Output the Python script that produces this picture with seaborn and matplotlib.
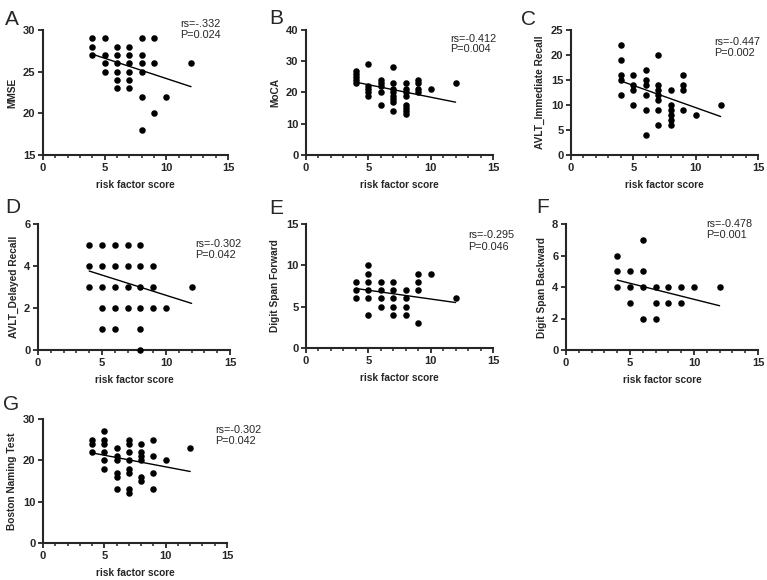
import matplotlib
matplotlib.use("Agg")
import matplotlib.pyplot as plt
from matplotlib.ticker import MultipleLocator
import seaborn as sns
import pandas as pd

# ---------------- data ----------------
x_label = "risk factor score"

mmse_x = [4, 4, 4, 5, 5, 5, 5, 6, 6, 6, 6, 6, 6, 7, 7, 7, 7, 7, 7, 8, 8, 8, 8, 8, 8, 9, 9, 9, 10, 12]
mmse_y = [29, 28, 27, 29, 27, 26, 25, 28, 27, 26, 25, 24, 23, 28, 27, 26, 25, 24, 23, 29, 27, 26, 25, 22, 18, 29, 26, 20, 22, 26]

moca_x = [4, 4, 4, 4, 4, 5, 5, 5, 5, 5, 6, 6, 6, 6, 6, 7, 7, 7, 7, 7, 7, 7, 7, 8, 8, 8, 8, 8, 8, 8, 8, 9, 9, 9, 9, 10, 12]
moca_y = [27, 26, 25, 24, 23, 29, 22, 21, 20, 19, 24, 23, 22, 20, 16, 28, 23, 21, 20, 19, 18, 17, 14, 23, 21, 20, 19, 16, 15, 14, 13, 24, 23, 21, 20, 21, 23]

avlt_i_x = [4, 4, 4, 4, 4, 5, 5, 5, 5, 6, 6, 6, 6, 6, 6, 7, 7, 7, 7, 7, 7, 7, 8, 8, 8, 8, 8, 8, 9, 9, 9, 9, 10, 12]
avlt_i_y = [22, 19, 16, 15, 12, 16, 14, 13, 10, 17, 15, 14, 12, 9, 4, 20, 14, 13, 12, 11, 9, 6, 13, 10, 9, 8, 7, 6, 16, 14, 13, 9, 8, 10]

avlt_d_x = [4, 4, 4, 5, 5, 5, 5, 5, 6, 6, 6, 6, 6, 7, 7, 7, 7, 8, 8, 8, 8, 8, 8, 9, 9, 9, 10, 12]
avlt_d_y = [5, 4, 3, 5, 4, 3, 2, 1, 5, 4, 3, 2, 1, 5, 4, 3, 2, 5, 4, 3, 2, 1, 0, 4, 3, 2, 2, 3]

dsf_x = [4, 4, 4, 5, 5, 5, 5, 5, 5, 6, 6, 6, 6, 7, 7, 7, 7, 7, 8, 8, 8, 8, 9, 9, 9, 9, 10, 12]
dsf_y = [8, 7, 6, 10, 9, 8, 7, 6, 4, 8, 7, 6, 5, 8, 7, 6, 5, 4, 7, 6, 5, 4, 9, 8, 7, 3, 9, 6]

dsb_x = [4, 4, 4, 5, 5, 5, 6, 6, 6, 6, 7, 7, 7, 8, 8, 9, 9, 10, 12]
dsb_y = [6, 5, 4, 5, 4, 3, 7, 5, 4, 2, 4, 3, 2, 4, 3, 4, 3, 4, 4]

bnt_x = [4, 4, 4, 5, 5, 5, 5, 5, 5, 6, 6, 6, 6, 6, 6, 7, 7, 7, 7, 7, 7, 7, 7, 8, 8, 8, 8, 8, 8, 9, 9, 9, 9, 10, 12]
bnt_y = [25, 24, 22, 27, 25, 24, 22, 20, 18, 23, 21, 20, 17, 16, 13, 25, 24, 22, 20, 18, 17, 13, 12, 24, 22, 21, 20, 16, 15, 25, 21, 17, 13, 20, 23]

fit_x = [4, 12]
mmse_fit = [27.1, 23.2]
moca_fit = [23.3, 16.9]
avlt_i_fit = [14.8, 7.7]
avlt_d_fit = [3.76, 2.22]
dsf_fit = [7.2, 5.5]
dsb_fit = [4.44, 2.81]
bnt_fit = [21.8, 17.3]

panel_letters = ["A", "B", "C", "D", "E", "F", "G"]
y_labels = ["MMSE", "MoCA", "AVLT_Immediate Recall", "AVLT_Delayed Recall",
            "Digit Span Forward", "Digit Span Backward", "Boston Naming Test"]
rs_texts = ["rs=-.332", "rs=-0.412", "rs=-0.447", "rs=-0.302", "rs=-0.295", "rs=-0.478", "rs=-0.302"]
p_texts = ["P=0.024", "P=0.004", "P=0.002", "P=0.042", "P=0.046", "P=0.001", "P=0.042"]
y_limits = [(15, 30), (0, 40), (0, 25), (0, 6), (0, 15), (0, 8), (0, 30)]
y_steps = [5, 10, 5, 2, 5, 2, 10]

xs = [mmse_x, moca_x, avlt_i_x, avlt_d_x, dsf_x, dsb_x, bnt_x]
ys = [mmse_y, moca_y, avlt_i_y, avlt_d_y, dsf_y, dsb_y, bnt_y]
fits = [mmse_fit, moca_fit, avlt_i_fit, avlt_d_fit, dsf_fit, dsb_fit, bnt_fit]

# ---------------- layout ----------------
sns.set_style("ticks")
plt.rcParams["font.family"] = ["Liberation Sans", "DejaVu Sans"]

W, H = 767, 580
fig = plt.figure(figsize=(W / 100, H / 100), dpi=100)

# axes boxes in pixels: left, right, top, bottom
boxes = [(43, 228, 30, 155), (306, 493, 30, 155), (571, 758, 30, 155),
         (38, 230, 224, 350), (306, 493, 224, 348), (566, 758, 224, 350),
         (43, 227, 419, 543)]
# stats text: left x and baseline y of the "rs" line (pixels)
text_pos = [(180, 27), (450, 41.5), (714, 45), (195, 247), (468, 238.5),
            (706, 227), (215, 433)]
text_gap = 11
# panel letters: left x and baseline y (pixels)
letter_pos = [(5, 25), (269, 24), (521, 25), (5, 213), (269, 214), (536, 213), (3, 410)]

for i in range(7):
    l, r, t, b = boxes[i]
    ax = fig.add_axes([l / W, 1 - b / H, (r - l) / W, (b - t) / H])
    df = pd.DataFrame({"x": xs[i], "y": ys[i]})
    sns.scatterplot(data=df, x="x", y="y", ax=ax, color="black", s=22,
                    edgecolor="black", linewidth=0, clip_on=False, zorder=3)
    sns.lineplot(x=fit_x, y=fits[i], ax=ax, color="black", linewidth=1.0)
    ax.set_xlim(0, 15)
    ax.set_ylim(*y_limits[i])
    ax.xaxis.set_major_locator(MultipleLocator(5))
    ax.xaxis.set_minor_locator(MultipleLocator(1))
    ax.yaxis.set_major_locator(MultipleLocator(y_steps[i]))
    for s in ["top", "right"]:
        ax.spines[s].set_visible(False)
    for s in ["left", "bottom"]:
        ax.spines[s].set_linewidth(1.5)
    ax.tick_params(axis="both", which="major", length=3.5, width=1.3,
                   labelsize=8, pad=2)
    ax.tick_params(axis="x", which="minor", length=2.2, width=1.1)
    for lab in ax.get_xticklabels() + ax.get_yticklabels():
        lab.set_fontweight("bold")
    ax.set_xlabel(x_label, fontsize=7.3, fontweight="bold", labelpad=5)
    ax.set_ylabel(y_labels[i], fontsize=7.3, fontweight="bold", labelpad=4)
    tx, ty = text_pos[i]
    fig.text(tx / W, 1 - ty / H, rs_texts[i], fontsize=7.8,
             va="baseline", ha="left")
    fig.text(tx / W, 1 - (ty + text_gap) / H, p_texts[i], fontsize=7.8,
             va="baseline", ha="left")
    lx, ly = letter_pos[i]
    fig.text(lx / W, 1 - ly / H, panel_letters[i], fontsize=15,
             va="baseline", ha="left")

fig.savefig("out.png", dpi=100)
